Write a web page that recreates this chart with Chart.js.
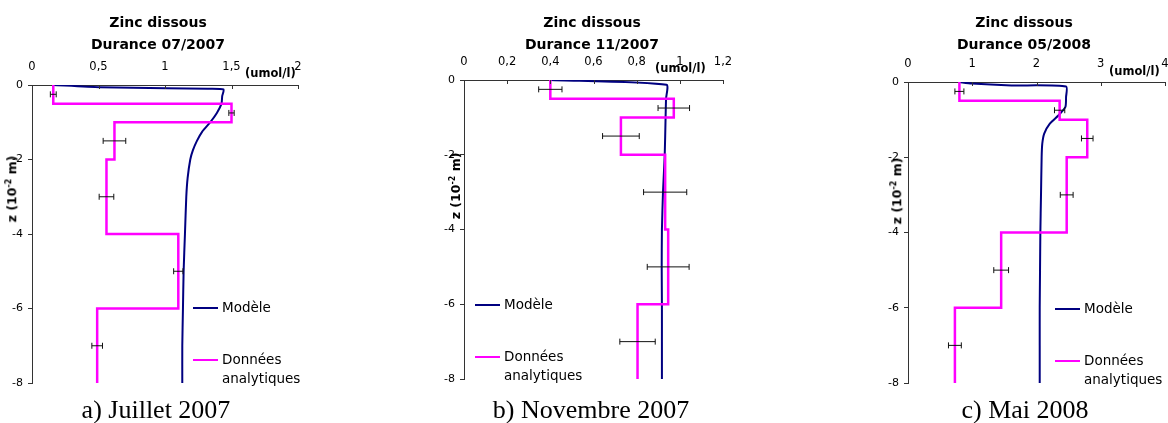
<!DOCTYPE html>
<html>
<head>
<meta charset="utf-8">
<script src="https://cdn.jsdelivr.net/npm/chart.js@4.4.1/dist/chart.umd.min.js"></script>
<style>
    body { margin: 0; width: 1168px; height: 423px; background: #fff; overflow: hidden; position: relative; font-family: "DejaVu Sans", sans-serif; color: #000; }
    canvas { position: absolute; top: 0; }
    .t { position: absolute; white-space: nowrap; line-height: 1; transform: translate(-50%, -50%); }
    .title { font-weight: bold; font-size: 14px; text-align: center; line-height: 22px; transform: translateX(-50%); top: 11px; }
    .unit { font-weight: bold; font-size: 11.5px; transform: translateY(-50%); }
    .ytitle { font-weight: bold; font-size: 12.5px; transform: translate(-50%, -50%) rotate(-90deg); }
    .ytitle sup { font-size: 8px; vertical-align: 5px; }
    .caption { font-family: "Liberation Serif", serif; font-size: 26px; transform: translateX(-50%); top: 397px; }
    .leg { position: absolute; font-size: 13.5px; line-height: 19px; }
    .leg i { position: absolute; left: 0; width: 25px; height: 2px; }
    .leg span { position: absolute; left: 29px; white-space: nowrap; }
</style>
</head>
<body>
<canvas id="chart-a" width="390" height="400" style="left:0px"></canvas>
<canvas id="chart-b" width="390" height="400" style="left:390px"></canvas>
<canvas id="chart-c" width="430" height="400" style="left:778px"></canvas>

<div class="t title" style="left:158px">Zinc dissous<br>Durance 07/2007</div>
<div class="t title" style="left:592px">Zinc dissous<br>Durance 11/2007</div>
<div class="t title" style="left:1024px">Zinc dissous<br>Durance 05/2008</div>

<div class="t unit" style="left:245px;top:74px">(umol/l)</div>
<div class="t unit" style="left:655px;top:69px">(umol/l)</div>
<div class="t unit" style="left:1109px;top:72px">(umol/l)</div>

<div class="t ytitle" style="left:12px;top:189px">z (10<sup>-2</sup> m)</div>
<div class="t ytitle" style="left:456px;top:186px">z (10<sup>-2</sup> m)</div>
<div class="t ytitle" style="left:897px;top:191px">z (10<sup>-2</sup> m)</div>

<div class="leg" style="left:193px;top:298px"><i style="top:9px;background:#000080"></i><span style="top:0">Modèle</span><i style="top:61px;background:#ff00ff"></i><span style="top:52px">Données<br>analytiques</span></div>
<div class="leg" style="left:475px;top:295px"><i style="top:9px;background:#000080"></i><span style="top:0">Modèle</span><i style="top:61px;background:#ff00ff"></i><span style="top:52px">Données<br>analytiques</span></div>
<div class="leg" style="left:1055px;top:299px"><i style="top:9px;background:#000080"></i><span style="top:0">Modèle</span><i style="top:61px;background:#ff00ff"></i><span style="top:52px">Données<br>analytiques</span></div>

<div class="t caption" style="left:156px">a) Juillet 2007</div>
<div class="t caption" style="left:591px">b) Novembre 2007</div>
<div class="t caption" style="left:1025px">c) Mai 2008</div>

<script>
// layer boundaries of the measured profile and depth of each sample (10^-2 m)
const depthBounds = [0, -0.5, -1, -2, -4, -6, -8];
const sampleDepths = [-0.25, -0.75, -1.5, -3, -5, -7];

// a) Juillet 2007
const measuredA = [0.16, 1.50, 0.62, 0.56, 1.10, 0.49];
const errorA = [0.022, 0.02, 0.085, 0.055, 0.035, 0.04];
const modelDepthA = [0, -0.06, -0.09, -0.1, -0.12, -0.3, -0.5, -0.75, -1, -1.25, -1.5, -1.75, -2, -2.5, -3, -4, -5, -6, -7, -8];
const modelA = [0.16, 0.51, 1.01, 1.32, 1.44, 1.43, 1.425, 1.39, 1.34, 1.28, 1.24, 1.21, 1.19, 1.17, 1.16, 1.15, 1.14, 1.135, 1.13, 1.13];

// b) Novembre 2007
const measuredB = [0.40, 0.972, 0.727, 0.932, 0.946, 0.804];
const errorB = [0.054, 0.073, 0.085, 0.10, 0.097, 0.082];
const modelDepthB = [0, -0.13, -0.5, -1, -2, -3, -4, -5, -6, -7, -8];
const modelB = [0.40, 0.938, 0.936, 0.934, 0.93, 0.922, 0.917, 0.916, 0.917, 0.917, 0.917];

// c) Mai 2008
const measuredC = [0.80, 2.36, 2.79, 2.47, 1.45, 0.73];
const errorC = [0.07, 0.08, 0.09, 0.10, 0.115, 0.10];
const modelDepthC = [0, -0.04, -0.09, -0.12, -0.4, -0.66, -0.89, -1.1, -1.37, -1.64, -2, -3, -4, -5, -6, -7, -8];
const modelC = [0.80, 0.99, 1.61, 2.46, 2.46, 2.45, 2.34, 2.21, 2.12, 2.09, 2.08, 2.07, 2.06, 2.055, 2.05, 2.05, 2.05];

const FONT = '"DejaVu Sans", sans-serif';
const CANVAS_H = 400;
const Y_AXIS_W = 32;

const panels = [
    { id: 'chart-a', measured: measuredA, error: errorA, modelDepth: modelDepthA, model: modelA, xMax: 2, xStep: 0.5, boxLeft: 0, boxWidth: 390, area: { left: 32, right: 298, top: 85, bottom: 383 } },
    { id: 'chart-b', measured: measuredB, error: errorB, modelDepth: modelDepthB, model: modelB, xMax: 1.2, xStep: 0.2, boxLeft: 390, boxWidth: 390, area: { left: 464, right: 723, top: 80, bottom: 379 } },
    { id: 'chart-c', measured: measuredC, error: errorC, modelDepth: modelDepthC, model: modelC, xMax: 4, xStep: 1, boxLeft: 778, boxWidth: 430, area: { left: 908, right: 1165, top: 82, bottom: 383 } },
];

const innerTicks = {
    id: 'innerTicks',
    afterDraw(chart) {
        const { ctx, chartArea, scales: { x } } = chart;
        ctx.save();
        ctx.strokeStyle = '#333';
        ctx.lineWidth = 1;
        x.ticks.forEach((t) => {
            const px = Math.round(x.getPixelForValue(t.value)) + 0.5;
            ctx.beginPath();
            ctx.moveTo(px, chartArea.top);
            ctx.lineTo(px, chartArea.top + 4);
            ctx.stroke();
        });
        ctx.restore();
    },
};

function stepPoints(values) {
    return values.flatMap((v, i) => [{ x: v, y: depthBounds[i] }, { x: v, y: depthBounds[i + 1] }]);
}

function fmt(v) {
    return String(Math.round(v * 10) / 10).replace('.', ',');
}

panels.forEach((p) => {
    const errorBars = sampleDepths.map((z, i) => ({
        data: [{ x: p.measured[i] - p.error[i], y: z }, { x: p.measured[i] + p.error[i], y: z }],
        showLine: true,
        borderColor: '#111',
        borderWidth: 1,
        pointStyle: 'line',
        rotation: 90,
        pointRadius: 3,
        pointBorderWidth: 1,
        pointBorderColor: '#111',
    }));

    new Chart(document.getElementById(p.id), {
        type: 'scatter',
        data: {
            datasets: [
                ...errorBars,
                {
                    label: 'Données analytiques',
                    data: stepPoints(p.measured),
                    showLine: true,
                    borderColor: '#ff00ff',
                    borderWidth: 2.5,
                    pointRadius: 0,
                },
                {
                    label: 'Modèle',
                    data: p.model.map((v, i) => ({ x: v, y: p.modelDepth[i] })),
                    showLine: true,
                    borderColor: '#000080',
                    borderWidth: 2,
                    pointRadius: 0,
                    tension: 0.2,
                },
            ],
        },
        options: {
            responsive: false,
            animation: false,
            events: [],
            layout: {
                padding: {
                    left: p.area.left - p.boxLeft - Y_AXIS_W,
                    top: 0,
                    right: p.boxLeft + p.boxWidth - p.area.right,
                    bottom: CANVAS_H - p.area.bottom,
                },
            },
            plugins: { legend: { display: false }, tooltip: { enabled: false } },
            scales: {
                x: {
                    type: 'linear',
                    position: 'top',
                    min: 0,
                    max: p.xMax,
                    ticks: { stepSize: p.xStep, autoSkip: false, maxRotation: 0, padding: 11, color: '#000', font: { family: FONT, size: 11.5 }, callback: (v) => fmt(v) },
                    grid: { drawOnChartArea: false, drawTicks: false },
                    border: { color: '#333' },
                    afterFit: (s) => { s.height = p.area.top; },
                },
                y: {
                    type: 'linear',
                    min: -8,
                    max: 0,
                    ticks: { stepSize: 2, padding: 5, color: '#000', font: { family: FONT, size: 11 } },
                    grid: { drawOnChartArea: false, drawTicks: true, tickLength: 4, color: '#333' },
                    border: { color: '#333' },
                    afterFit: (s) => { s.width = Y_AXIS_W; },
                },
            },
        },
        plugins: [innerTicks],
    });
});
</script>
</body>
</html>
